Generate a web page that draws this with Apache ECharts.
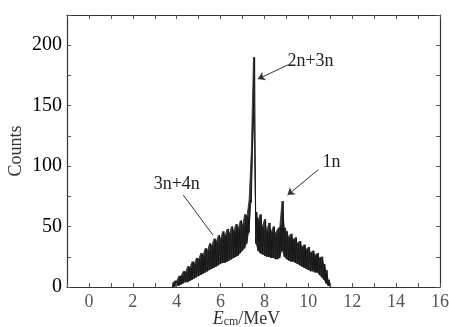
<!DOCTYPE html>
<html>
<head>
<meta charset="utf-8">
<script src="https://cdn.jsdelivr.net/npm/echarts@6/dist/echarts.min.js"></script>
<style>
  html, body { margin: 0; padding: 0; background: #fff; }
  #chart { width: 449px; height: 327px; }
</style>
</head>
<body>
<div id="chart"></div>
<script>
// energy grid (MeV) and the noisy band
const energies = [
  3.8, 3.9, 4.0, 4.1, 4.2, 4.3, 4.4, 4.5, 4.6, 4.7, 4.8, 4.9,
  5.0, 5.1, 5.2, 5.3, 5.4, 5.5, 5.6, 5.7, 5.8, 5.9,
  6.0, 6.1, 6.2, 6.3, 6.4, 6.5, 6.6, 6.7, 6.8, 6.9,
  7.0, 7.1, 7.2, 7.3, 7.4, 7.5, 7.6, 7.7, 7.8, 7.9,
  8.0, 8.1, 8.2, 8.3, 8.4, 8.5, 8.6, 8.7, 8.8, 8.9,
  9.0, 9.1, 9.2, 9.3, 9.4, 9.5, 9.6, 9.7, 9.8, 9.9,
  10.0, 10.1, 10.2, 10.3, 10.4, 10.5, 10.6, 10.7, 10.8, 10.9, 11.0
]
// top of the noise band
const upperCounts = [
  3, 5, 5, 9, 9, 13, 12, 17, 16, 21, 19, 24,
  23, 28, 26, 32, 30, 36, 34, 40, 37, 43,
  40, 46, 42, 48, 44, 50, 46, 52, 48, 55,
  51, 60, 58, 72, 112, 190, 62, 55, 60, 49,
  56, 46, 53, 45, 50, 44, 48, 50, 71, 49,
  46, 41, 44, 39, 41, 36, 38, 33, 35, 31,
  33, 28, 30, 26, 28, 24, 25, 19, 14, 6, 1
]
// bottom of the noise band
const lowerCounts = [
  0, 0, 1, 1, 2, 3, 4, 4, 5, 6, 7, 8,
  9, 10, 11, 12, 13, 14, 15, 16, 17, 18,
  19, 20, 20, 21, 22, 23, 24, 25, 26, 28,
  30, 32, 36, 45, 70, 140, 36, 30, 28, 27,
  26, 25, 25, 24, 24, 23, 23, 24, 30, 25,
  23, 22, 21, 21, 20, 19, 18, 17, 16, 15,
  14, 13, 13, 12, 12, 10, 8, 6, 3, 1, 0
]

const xTicks = [0, 2, 4, 6, 8, 10, 12, 14, 16]
const yTicks = [0, 50, 100, 150, 200]

const upperData = energies.map((e, i) => [e, upperCounts[i]])
const lowerData = energies.map((e, i) => [e, lowerCounts[i]])

// zigzag between low and high values to give the band its noisy texture
const halfStep = 0.05
const zigzag = []
energies.forEach((e, i) => {
  zigzag.push([e, lowerCounts[i]])
  zigzag.push([+(e + halfStep).toFixed(2), upperCounts[i]])
})

const serif = '"Liberation Serif", "DejaVu Serif", serif'

const chart = echarts.init(document.getElementById('chart'))

const baseX = {
  type: 'value',
  min: -1,
  max: 16,
  interval: 1,
  z: 10,
  splitLine: { show: false },
  axisLine: { show: true, onZero: false, lineStyle: { color: '#333', width: 1.2 } },
  axisTick: { inside: true, length: 4, lineStyle: { color: '#555' } }
}
const baseY = {
  type: 'value',
  min: 0,
  max: 225,
  interval: 25,
  z: 10,
  splitLine: { show: false },
  axisLine: { show: true, onZero: false, lineStyle: { color: '#333', width: 1.2 } },
  axisTick: { inside: true, length: 4, lineStyle: { color: '#555' } }
}

const option = {
  backgroundColor: '#fff',
  animation: false,
  grid: { left: 67, right: 9, top: 15, bottom: 40, outerBoundsMode: 'none' },
  xAxis: [
    Object.assign({}, baseX, {
      position: 'bottom',
      name: '{e|E}{sub|cm}/MeV',
      nameLocation: 'middle',
      nameGap: 23,
      nameMoveOverlap: false,
      nameTextStyle: {
        rich: {
          e: { fontFamily: serif, fontStyle: 'italic', fontSize: 18, color: '#333', lineHeight: 18 },
          sub: { fontFamily: serif, fontSize: 12, color: '#333', lineHeight: 18, verticalAlign: 'bottom', padding: [5, 0, 0, 0] }
        },
        fontFamily: serif, fontSize: 18, color: '#333', lineHeight: 18,
        padding: [0, 14, 0, 0]
      },
      axisLabel: {
        color: '#555',
        fontFamily: serif,
        fontSize: 18,
        margin: 6,
        formatter: v => (xTicks.includes(v) ? String(v) : '')
      }
    }),
    Object.assign({}, baseX, { position: 'top', axisLabel: { show: false } })
  ],
  yAxis: [
    Object.assign({}, baseY, {
      position: 'left',
      name: 'Counts',
      nameLocation: 'middle',
      nameGap: 42,
      nameMoveOverlap: false,
      nameTextStyle: { fontFamily: serif, fontSize: 18, color: '#333' },
      axisLabel: {
        color: '#000',
        fontFamily: serif,
        fontSize: 20,
        margin: 5,
        formatter: v => (yTicks.includes(v) ? String(v) : '')
      }
    }),
    Object.assign({}, baseY, { position: 'right', axisLabel: { show: false } })
  ],
  series: [
    {
      type: 'line',
      data: upperData,
      showSymbol: false,
      silent: true,
      lineStyle: { color: '#2a2a2a', width: 0.8 },
      areaStyle: { color: '#383838', opacity: 1 }
    },
    {
      type: 'line',
      data: lowerData,
      showSymbol: false,
      silent: true,
      lineStyle: { opacity: 0 },
      areaStyle: { color: '#fff', opacity: 1 }
    },
    {
      type: 'line',
      data: zigzag,
      showSymbol: false,
      lineStyle: { color: '#151515', width: 1 },
      markLine: {
        silent: true,
        symbol: ['none', 'arrow'],
        symbolSize: 7,
        lineStyle: { color: '#333', width: 1, type: 'solid' },
        label: { show: false },
        data: [
          [{ coord: [9.1, 184] }, { coord: [7.7, 172] }],
          [{ coord: [10.45, 97] }, { coord: [9.05, 76] }],
          [{ coord: [4.3, 76], symbol: 'none' }, { coord: [5.65, 43], symbol: 'none' }]
        ]
      },
      markPoint: {
        silent: true,
        symbol: 'rect',
        symbolSize: 1,
        itemStyle: { color: 'rgba(0,0,0,0)' },
        label: {
          show: true,
          position: 'inside',
          fontFamily: serif,
          fontSize: 18,
          color: '#222'
        },
        data: [
          { coord: [10.1, 187], label: { formatter: '2n+3n' } },
          { coord: [11.05, 103], label: { formatter: '1n' } },
          { coord: [4.0, 85], label: { formatter: '3n+4n' } }
        ]
      }
    }
  ]
}

chart.setOption(option)
</script>
</body>
</html>
